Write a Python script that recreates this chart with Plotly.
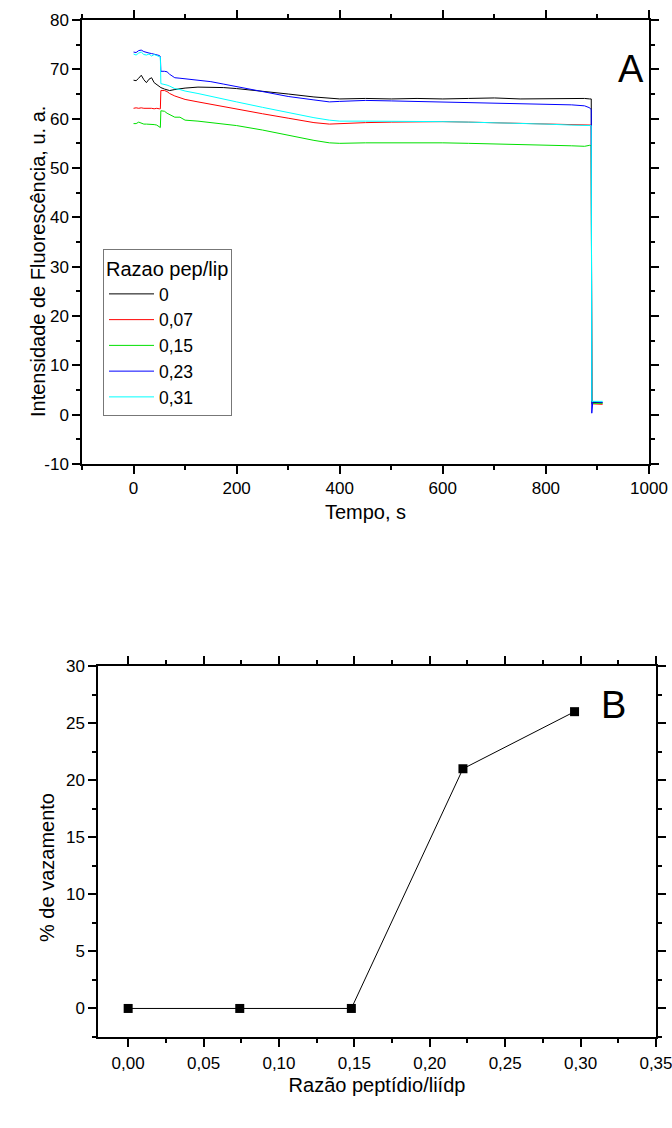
import plotly.graph_objects as go

# ---------------- Data (panel A) ----------------
time_s = [0, 5, 10, 15, 20, 25, 30, 35, 40, 45, 50,
          52, 53, 60, 65, 70, 80, 90, 100,
          125, 150, 175, 200, 250, 300, 350, 380, 400,
          450, 500, 550, 600, 650, 700, 750, 800, 850,
          875, 885, 888, 889, 891, 900, 910]

ratio_0 = [67.8, 67.7, 68.2, 68.8, 67.9, 67.3, 68.0, 68.3, 67.3, 66.9, 66.6,
           66.4, 66.3, 66.0, 65.8, 65.7, 65.9, 66.1, 66.2,
           66.4, 66.4, 66.3, 66.1, 65.6, 65.0, 64.4, 64.1, 64.0,
           64.1, 64.0, 64.1, 64.0, 64.1, 64.2, 64.0, 64.1, 64.1,
           64.1, 64.0, 64.0, 2.5, 2.5, 2.4, 2.4]

ratio_007 = [62.1, 62.2, 62.1, 62.2, 62.1, 62.1, 62.2, 62.1, 62.0, 62.1, 62.0,
             62.0, 65.7, 65.7, 65.5, 65.1, 64.6, 64.2, 63.9,
             63.4, 62.9, 62.4, 61.9, 61.0, 60.1, 59.2, 58.9, 59.0,
             59.2, 59.3, 59.4, 59.4, 59.3, 59.2, 59.0, 58.9, 58.8,
             58.7, 58.7, 58.7, 2.2, 2.2, 2.1, 2.1]

ratio_015 = [59.0, 59.0, 59.3, 59.1, 58.9, 58.9, 58.9, 58.8, 58.8, 58.7, 58.4,
             58.2, 61.6, 61.5, 61.1, 60.8, 60.3, 60.3, 59.7,
             59.5, 59.2, 58.9, 58.6, 57.7, 56.6, 55.6, 55.1, 55.0,
             55.1, 55.1, 55.2, 55.1, 55.0, 54.9, 54.8, 54.6, 54.5,
             54.4, 54.6, 54.5, 2.3, 2.3, 2.3, 2.3]

ratio_023 = [73.5, 73.4, 73.8, 73.9, 73.6, 73.4, 73.3, 73.2, 73.1, 73.0, 72.8,
             72.6, 69.6, 69.6, 69.5, 69.0, 68.3, 68.2, 68.1,
             67.8, 67.5, 67.0, 66.5, 65.5, 64.5, 63.8, 63.4, 63.5,
             63.7, 63.6, 63.5, 63.4, 63.3, 63.2, 63.1, 63.0, 62.8,
             62.6, 62.2, 61.8, 0.3, 2.6, 2.5, 2.5]

ratio_031 = [73.1, 72.9, 73.3, 73.5, 73.0, 72.9, 73.1, 72.7, 73.0, 72.8, 72.6,
             72.5, 67.1, 67.0, 66.8, 66.6, 66.1, 65.9, 65.6,
             65.1, 64.5, 64.0, 63.4, 62.3, 61.2, 60.2, 59.7, 59.5,
             59.5, 59.5, 59.4, 59.4, 59.3, 59.2, 59.0, 58.9, 58.7,
             58.6, 58.6, 58.6, 2.7, 2.7, 2.7, 2.7]

series_names = ["0", "0,07", "0,15", "0,23", "0,31"]
series_colors = ["#000000", "#ff0000", "#00e000", "#0000ff", "#00ffff"]

xa_ticks = [0, 200, 400, 600, 800, 1000]
xa_labels = ["0", "200", "400", "600", "800", "1000"]
ya_ticks = [-10, 0, 10, 20, 30, 40, 50, 60, 70, 80]
ya_labels = ["-10", "0", "10", "20", "30", "40", "50", "60", "70", "80"]

# ---------------- Data (panel B) ----------------
ratio_pep = [0.0, 0.074, 0.148, 0.222, 0.296]
leakage = [0, 0, 0, 21, 26]

xb_ticks = [0.0, 0.05, 0.10, 0.15, 0.20, 0.25, 0.30, 0.35]
xb_labels = ["0,00", "0,05", "0,10", "0,15", "0,20", "0,25", "0,30", "0,35"]
yb_ticks = [0, 5, 10, 15, 20, 25, 30]
yb_labels = ["0", "5", "10", "15", "20", "25", "30"]

# ---------------- Figure ----------------
W, H = 672, 1128
FONT = "Liberation Sans, Arial, Helvetica, sans-serif"

fig = go.Figure()
for name, vals, color in zip(series_names,
                             [ratio_0, ratio_007, ratio_015, ratio_023, ratio_031],
                             series_colors):
    fig.add_trace(go.Scatter(x=time_s, y=vals, mode="lines", name=name,
                             line=dict(color=color, width=1),
                             xaxis="x", yaxis="y"))

fig.add_trace(go.Scatter(x=ratio_pep, y=leakage, mode="lines+markers",
                         line=dict(color="black", width=1),
                         marker=dict(symbol="square", size=9, color="black"),
                         xaxis="x2", yaxis="y2", showlegend=False))

base = dict(showline=True, linecolor="black", linewidth=1.5, mirror="ticks",
            ticks="outside", ticklen=8, tickwidth=1.5, tickcolor="black",
            showgrid=False, zeroline=False, automargin=False,
            ticklabeloverflow="allow",
            tickfont=dict(size=17, color="black", family=FONT),
            title_font=dict(size=20, color="black", family=FONT))


def minor(step):
    return dict(ticks="outside", ticklen=4, tickwidth=1.5, tickcolor="black",
                tick0=0, dtick=step)


def px_x(p):
    return p / W


def px_y(p):
    return 1 - p / H


title_font = dict(size=20, color="black", family=FONT)

fig.update_layout(
    width=W, height=H, autosize=False,
    margin=dict(l=0, r=0, t=0, b=0),
    paper_bgcolor="white", plot_bgcolor="white",
    font=dict(family=FONT, color="black"),
    xaxis=dict(base, domain=[px_x(82), px_x(649)], range=[-100, 1000.01], anchor="y",
               tickmode="array", tickvals=xa_ticks, ticktext=xa_labels,
               minor=minor(100),
               title=dict(text="Tempo, s", standoff=8)),
    yaxis=dict(base, domain=[px_y(464), px_y(20)], range=[-10, 80.001], anchor="x",
               tickmode="array", tickvals=ya_ticks, ticktext=ya_labels,
               minor=minor(5)),
    xaxis2=dict(base, domain=[px_x(98), px_x(656)], range=[-0.02, 0.35001], anchor="y2",
                tickmode="array", tickvals=xb_ticks, ticktext=xb_labels,
                minor=minor(0.025), ticklabelstandoff=2,
                title=dict(text="Razão peptídio/liídp", standoff=6)),
    yaxis2=dict(base, domain=[px_y(1037), px_y(666)], range=[-2.5, 30.001], anchor="x2",
                tickmode="array", tickvals=yb_ticks, ticktext=yb_labels,
                minor=minor(2.5)),
    legend=dict(x=px_x(103), y=px_y(249), xanchor="left", yanchor="top",
                bordercolor="#777777", borderwidth=1, bgcolor="white",
                font=dict(size=17.5, color="black", family=FONT),
                title=dict(text="Razao pep/lip", font=dict(size=20, family=FONT)),
                itemwidth=45, tracegroupgap=0,
                entrywidth=138, entrywidthmode="pixels"),
    annotations=[
        dict(text="Intensidade de Fluorescência, u. a.", x=px_x(38), y=px_y(262),
             xref="paper", yref="paper", textangle=-90, showarrow=False,
             font=title_font, xanchor="center", yanchor="middle"),
        dict(text="% de vazamento", x=px_x(47), y=px_y(868),
             xref="paper", yref="paper", textangle=-90, showarrow=False,
             font=title_font, xanchor="center", yanchor="middle"),
        dict(text="A", x=px_x(631), y=px_y(69), xref="paper", yref="paper",
             showarrow=False, font=dict(size=38, color="black", family=FONT),
             xanchor="center", yanchor="middle"),
        dict(text="B", x=px_x(613), y=px_y(705), xref="paper", yref="paper",
             showarrow=False, font=dict(size=38, color="black", family=FONT),
             xanchor="center", yanchor="middle"),
    ],
)

fig.write_html("out.html",
               config={"displayModeBar": False},
               post_script="document.body.style.margin='0px';"
                           "document.body.style.overflow='hidden';")
